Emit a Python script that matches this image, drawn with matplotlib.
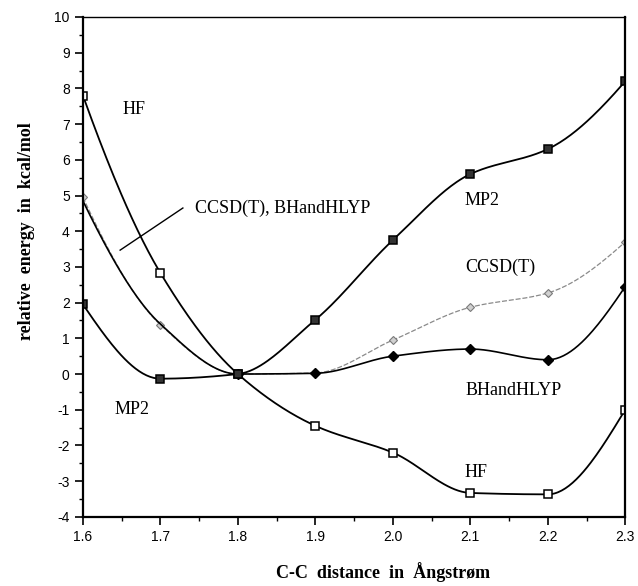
import numpy as np
import matplotlib.pyplot as plt
from matplotlib.ticker import MultipleLocator

plt.rcParams['axes.unicode_minus'] = False

# data
distance = [1.6, 1.7, 1.8, 1.9, 2.0, 2.1, 2.2, 2.3]
hf = [7.8, 2.83, 0.0, -1.45, -2.2, -3.33, -3.37, -1.0]
mp2 = [1.95, -0.13, 0.0, 1.52, 3.75, 5.6, 6.3, 8.2]
ccsdt = [4.95, 1.38, 0.0, 0.03, 0.95, 1.87, 2.27, 3.7]
bhandhlyp = [4.85, 1.4, 0.0, 0.02, 0.5, 0.7, 0.4, 2.45]


def smooth_curve(x, y, n=300):
    """Shape-preserving (PCHIP-style) cubic through the points."""
    x = np.asarray(x, float)
    y = np.asarray(y, float)
    h = np.diff(x)
    d = np.diff(y) / h
    m = np.zeros_like(y)
    for k in range(1, len(x) - 1):
        if d[k - 1] * d[k] > 0:
            w1 = 2 * h[k] + h[k - 1]
            w2 = h[k] + 2 * h[k - 1]
            m[k] = (w1 + w2) / (w1 / d[k - 1] + w2 / d[k])
    m[0] = ((2 * h[0] + h[1]) * d[0] - h[0] * d[1]) / (h[0] + h[1])
    if np.sign(m[0]) != np.sign(d[0]):
        m[0] = 0
    m[-1] = ((2 * h[-1] + h[-2]) * d[-1] - h[-1] * d[-2]) / (h[-1] + h[-2])
    if np.sign(m[-1]) != np.sign(d[-1]):
        m[-1] = 0
    xs = np.linspace(x[0], x[-1], n)
    idx = np.clip(np.searchsorted(x, xs) - 1, 0, len(x) - 2)
    t = (xs - x[idx]) / h[idx]
    h00 = 2 * t ** 3 - 3 * t ** 2 + 1
    h10 = t ** 3 - 2 * t ** 2 + t
    h01 = -2 * t ** 3 + 3 * t ** 2
    h11 = t ** 3 - t ** 2
    ys = h00 * y[idx] + h10 * h[idx] * m[idx] + h01 * y[idx + 1] + h11 * h[idx] * m[idx + 1]
    return xs, ys


fig = plt.figure(figsize=(6.38, 5.86), dpi=100)
ax = fig.add_axes([0.130, 0.118, 0.850, 0.853])

# CCSD(T): thin grey line, small grey diamonds
xs, ys = smooth_curve(distance, ccsdt)
ax.plot(xs, ys, color='#8a8a8a', lw=0.9, ls=(0, (4, 1.5)))
ax.plot(distance, ccsdt, ls='none', marker='D', ms=4, mfc='#d0d0d0', mec='#7a7a7a', mew=0.8)

# BHandHLYP: black line, filled diamonds
xs, ys = smooth_curve(distance, bhandhlyp)
ax.plot(xs, ys, color='black', lw=1.2)
ax.plot(distance[2:], bhandhlyp[2:], ls='none', marker='D', ms=5, color='black')

# HF: black line, open squares
xs, ys = smooth_curve(distance, hf)
ax.plot(xs, ys, color='black', lw=1.3)
ax.plot(distance, hf, ls='none', marker='s', ms=6, mfc='white', mec='black', mew=1.1)

# MP2: black line, filled squares
xs, ys = smooth_curve(distance, mp2)
ax.plot(xs, ys, color='black', lw=1.3)
ax.plot(distance, mp2, ls='none', marker='s', ms=6, mfc='#333333', mec='black', mew=1.1)

ax.set_xlim(1.6, 2.3)
ax.set_ylim(-4, 10)
ax.xaxis.set_major_locator(MultipleLocator(0.1))
ax.xaxis.set_minor_locator(MultipleLocator(0.05))
ax.yaxis.set_major_locator(MultipleLocator(1))
ax.yaxis.set_minor_locator(MultipleLocator(0.5))
ax.xaxis.set_major_formatter(plt.FormatStrFormatter('%.1f'))
ax.tick_params(which='major', direction='out', length=6, width=1.2, labelsize=10)
ax.tick_params(which='minor', direction='out', length=3, width=1.0)
for lab in ax.get_xticklabels() + ax.get_yticklabels():
    lab.set_fontfamily('Liberation Sans')

for side in ['left', 'bottom', 'right']:
    ax.spines[side].set_linewidth(1.6)
ax.spines['top'].set_linewidth(1.0)

serif = 'Liberation Serif'
ax.text(1.651, 7.42, 'HF', fontsize=13, family=serif, va='center')
ax.text(1.641, -1.0, 'MP2', fontsize=13, family=serif, va='center')
ax.text(1.745, 4.65, 'CCSD(T), BHandHLYP', fontsize=13, family=serif, va='center')
ax.plot([1.648, 1.729], [3.47, 4.65], color='black', lw=1.0)
ax.text(2.093, 4.87, 'MP2', fontsize=13, family=serif, va='center')
ax.text(2.093, 3.0, 'CCSD(T)', fontsize=13, family=serif, va='center')
ax.text(2.094, -0.45, 'BHandHLYP', fontsize=13, family=serif, va='center')
ax.text(2.093, -2.75, 'HF', fontsize=13, family=serif, va='center')

fig.text(0.601, 0.006, 'C-C  distance  in  Ångstrøm', ha='center', va='bottom',
         fontsize=13, fontweight='bold', family=serif)
fig.text(0.041, 0.606, 'relative  energy  in  kcal/mol', ha='center', va='center',
         rotation=90, fontsize=13, fontweight='bold', family=serif)

fig.savefig('out.png', dpi=100)
